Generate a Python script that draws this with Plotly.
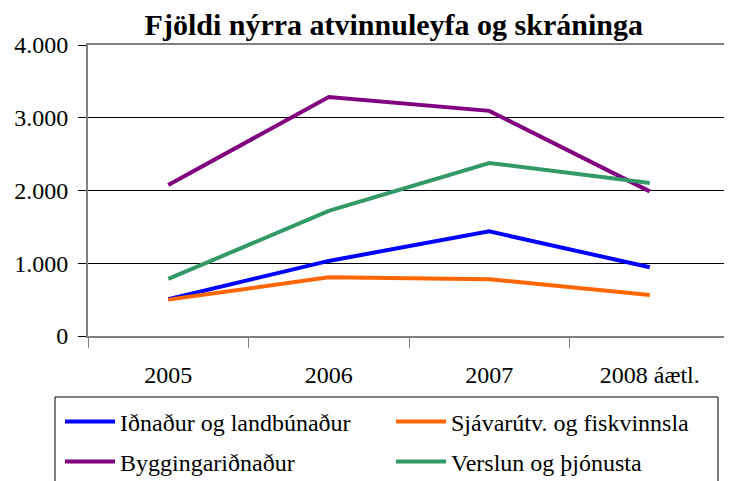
import plotly.graph_objects as go

categories = ["2005", "2006", "2007", "2008 áætl."]
idnadur = [505, 1032, 1438, 945]
sjavarutvegur = [500, 807, 780, 564]
bygging = [2077, 3285, 3095, 1988]
verslun = [784, 1719, 2378, 2104]
tick_vals = [0, 1000, 2000, 3000, 4000]
tick_text = ["0", "1.000", "2.000", "3.000", "4.000"]

series = [
    ("Iðnaður og landbúnaður", idnadur, "#0000FF", "legend"),
    ("Sjávarútv. og fiskvinnsla", sjavarutvegur, "#FF6600", "legend2"),
    ("Byggingariðnaður", bygging, "#800080", "legend3"),
    ("Verslun og þjónusta", verslun, "#339966", "legend4"),
]

FONT = "Liberation Serif"

fig = go.Figure()
for name, vals, color, leg in series:
    fig.add_trace(go.Scatter(x=categories, y=vals, name=name, mode="lines",
                             line=dict(color=color, width=4), legend=leg))

legend_common = dict(orientation="h", xanchor="left", yanchor="middle",
                     borderwidth=0, bgcolor="rgba(0,0,0,0)",
                     font=dict(family=FONT, size=24, color="black"),
                     itemwidth=50)

col1, col2 = -0.0436, 0.4720
row1, row2 = -0.2955, -0.433

fig.update_layout(
    width=732, height=481,
    margin=dict(l=80, r=10, t=37, b=153, autoexpand=False),
    paper_bgcolor="white", plot_bgcolor="white",
    font=dict(family=FONT, size=24, color="black"),
    title=dict(text="<b>Fjöldi nýrra atvinnuleyfa og skráninga</b>",
               x=0.527, xanchor="center", y=0.965, yanchor="middle",
               font=dict(family=FONT, size=30, color="black")),
    showlegend=True,
    legend=dict(x=col1, y=row1, **legend_common),
    legend2=dict(x=col2, y=row1, **legend_common),
    legend3=dict(x=col1, y=row2, **legend_common),
    legend4=dict(x=col2, y=row2, **legend_common),
    shapes=[dict(type="rect", xref="paper", yref="paper",
                 x0=-0.0514, x1=0.9813, y0=-0.2096, y1=-0.56,
                 line=dict(color="black", width=1), fillcolor="rgba(0,0,0,0)",
                 layer="above")],
)
fig.update_xaxes(type="category", range=[-0.5, 3.5], tickson="boundaries",
                 ticks="outside", ticklen=10, tickcolor="gray", tickwidth=1,
                 showgrid=False, showline=True, linecolor="gray", linewidth=2,
                 mirror=True, ticklabelstandoff=16,
                 tickfont=dict(family=FONT, size=24))
fig.update_yaxes(range=[0, 4000], tickvals=tick_vals, ticktext=tick_text,
                 ticks="outside", ticklen=8, tickcolor="black",
                 showgrid=True, gridcolor="black", gridwidth=1,
                 showline=True, linecolor="gray", linewidth=2, mirror=True,
                 zeroline=False, ticklabelstandoff=5,
                 tickfont=dict(family=FONT, size=24))

fig.write_html("out.html")
